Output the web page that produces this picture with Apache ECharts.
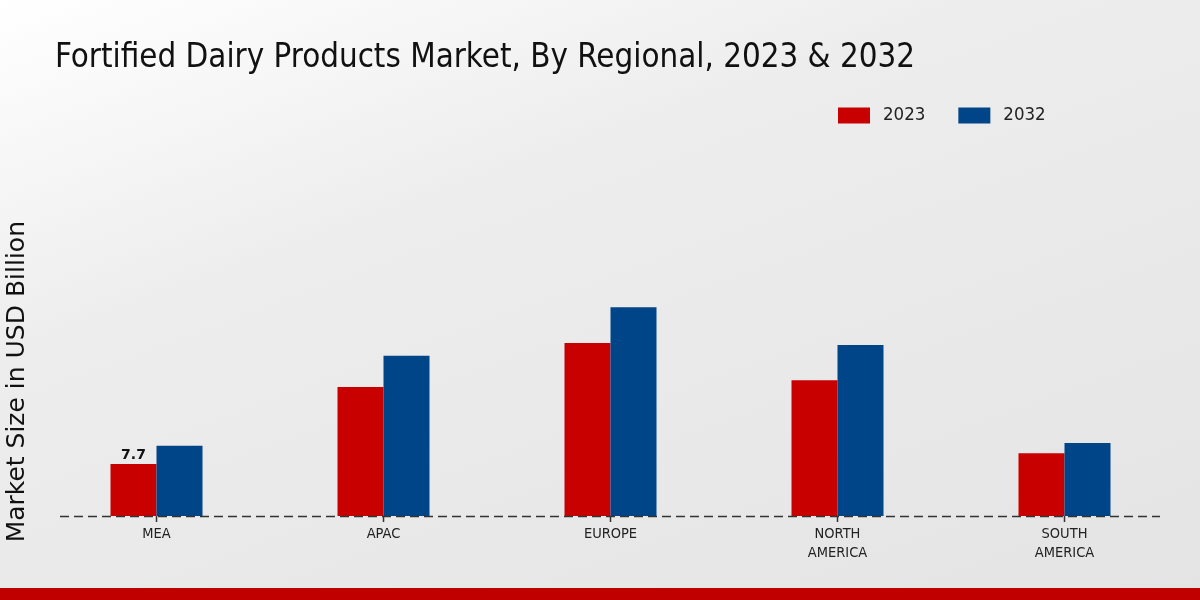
<!DOCTYPE html>
<html><head><meta charset="utf-8">
<script src="https://cdn.jsdelivr.net/npm/echarts@6/dist/echarts.min.js"></script>
<style>html,body{margin:0;padding:0;}#c{width:1200px;height:600px;background:linear-gradient(160deg,#ffffff 0%,#ededed 35%,#e4e4e4 100%);}</style>
</head><body><div id="c"></div>
<script>
const categories = ['MEA', 'APAC', 'EUROPE', 'NORTH\nAMERICA', 'SOUTH\nAMERICA'];
const values2023 = [7.7, 19.1, 25.6, 20.1, 9.3];
const values2032 = [10.4, 23.7, 30.9, 25.3, 10.8];
const seriesNames = ['2023', '2032'];

const chart = echarts.init(document.getElementById('c'), null, {renderer: 'canvas'});
const cond = '"DejaVu Sans Condensed", "DejaVu Sans", sans-serif';
chart.setOption({
  animation: false,
  backgroundColor: 'transparent',
  title: {
    text: 'Fortified Dairy Products Market, By Regional, 2023 & 2032',
    left: 50, top: 37,
    textStyle: {fontFamily: cond, fontWeight: 'normal', fontSize: 32.8, color: '#111'}
  },
  legend: {
    data: seriesNames,
    top: 106, left: 838, padding: 0,
    itemWidth: 32, itemHeight: 16, itemGap: 33,
    icon: 'rect',
    textStyle: {fontFamily: cond, fontSize: 18.5, color: '#222', padding: [0, 0, 0, 8]}
  },
  grid: {left: 43, right: 22, top: 116, bottom: 84},
  xAxis: {
    type: 'category', data: categories,
    axisLine: {show: false},
    axisTick: {show: false},
    axisLabel: {fontFamily: cond, fontSize: 14.5, color: '#222', margin: 9, lineHeight: 19}
  },
  yAxis: {
    type: 'value', min: 0, max: 59.2,
    axisLine: {show: false}, axisTick: {show: false}, axisLabel: {show: false}, splitLine: {show: false}
  },
  series: [
    {name: seriesNames[0], type: 'bar', data: values2023, barWidth: 46, barGap: 0,
     itemStyle: {color: '#c80000'},
     label: {show: true, position: 'top', distance: 2, fontFamily: '"DejaVu Sans", sans-serif', fontWeight: 'bold', fontSize: 14, color: '#111',
       formatter: p => p.dataIndex === 0 ? String(p.value) : ''}},
    {name: seriesNames[1], type: 'bar', data: values2032, barWidth: 46,
     itemStyle: {color: '#004587'},
     markPoint: {
       symbol: 'rect', symbolSize: [1.5, 6], symbolOffset: [-23, 3], silent: true,
       itemStyle: {color: '#333'}, label: {show: false},
       data: categories.map((c, i) => ({coord: [i, 0]}))
     }}
  ],
  graphic: [
    {type: 'line', z: 10, shape: {x1: 60, y1: 516.5, x2: 1160, y2: 516.5},
     style: {stroke: '#333', lineWidth: 1.5, lineDash: [9, 5]}},
    {type: 'text', left: 5, top: 221, rotation: Math.PI / 2,
     style: {text: 'Market Size in USD Billion', fontFamily: '"DejaVu Sans", sans-serif', fontSize: 25, fill: '#111'}},
    {type: 'rect', shape: {x: 0, y: 588, width: 1200, height: 12}, style: {fill: '#c00000'}}
  ]
});
</script></body></html>
